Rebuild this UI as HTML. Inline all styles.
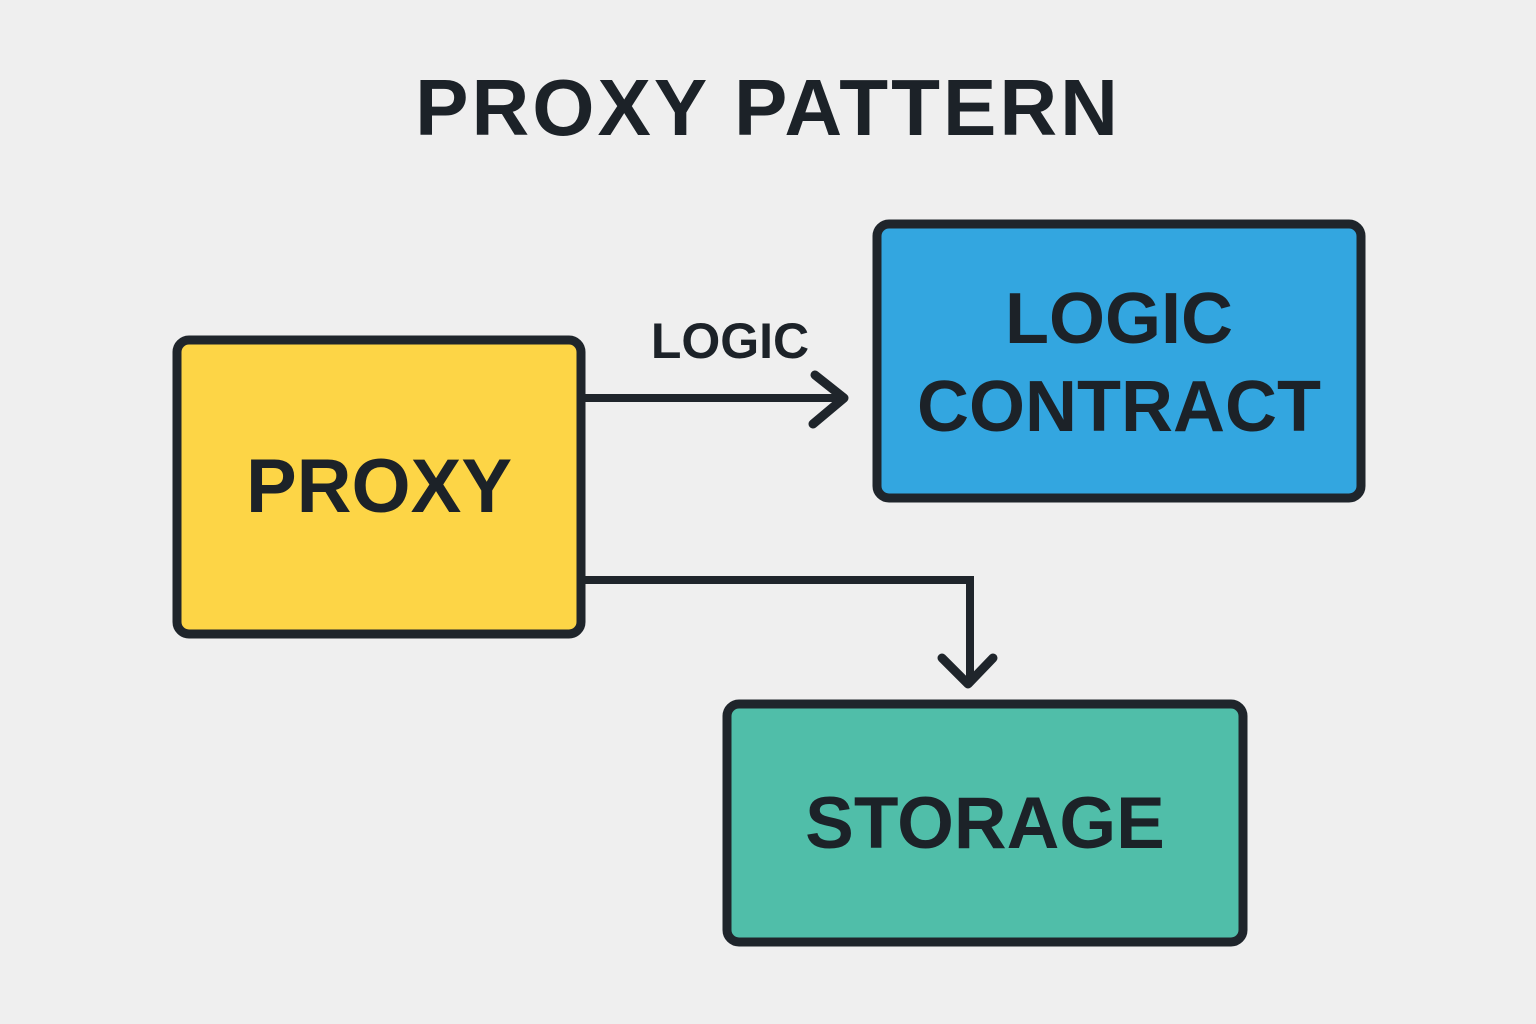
<!DOCTYPE html>
<html><head><style>
html,body{margin:0;padding:0;background:#efefef;}
body{width:1536px;height:1024px;position:relative;overflow:hidden;font-family:"Liberation Sans",sans-serif;}
.t{position:absolute;font-weight:bold;color:#1c2228;white-space:nowrap;text-align:center;}
</style></head><body>
<svg width="1536" height="1024" style="position:absolute;left:0;top:0">
<rect x="177" y="340" width="404" height="294" rx="12" fill="#fdd546" stroke="#1f252b" stroke-width="9"/>
<rect x="877" y="224" width="484" height="274" rx="12" fill="#33a6e0" stroke="#1f252b" stroke-width="9"/>
<rect x="727" y="704" width="516" height="238" rx="12" fill="#50bea9" stroke="#1f252b" stroke-width="9"/>
<path d="M585 398 H842" stroke="#1f252b" stroke-width="8" fill="none"/>
<path d="M815 375 L844 398 L813 424" stroke="#1f252b" stroke-width="9" fill="none" stroke-linecap="round" stroke-linejoin="round"/>
<path d="M585 580 H970 V678" stroke="#1f252b" stroke-width="8" fill="none"/>
<path d="M942 658 L968 684 L993 658" stroke="#1f252b" stroke-width="9" fill="none" stroke-linecap="round" stroke-linejoin="round"/>
</svg>
<div class="t" style="left:368px;top:62px;width:800px;font-size:80px;letter-spacing:3px;">PROXY PATTERN</div>
<div class="t" style="left:640px;top:312px;width:180px;font-size:50px;">LOGIC</div>
<div class="t" style="left:177px;top:443px;width:404px;font-size:76px;">PROXY</div>
<div class="t" style="left:877px;top:275px;width:484px;font-size:72px;line-height:88px;">LOGIC<br>CONTRACT</div>
<div class="t" style="left:727px;top:782px;width:516px;font-size:73px;">STORAGE</div>
</body></html>
